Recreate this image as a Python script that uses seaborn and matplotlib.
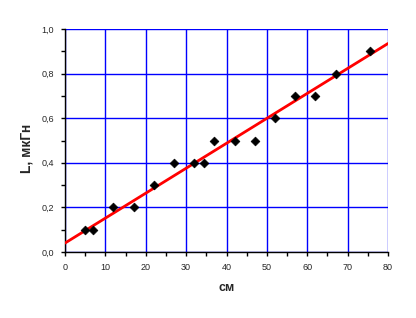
import matplotlib
matplotlib.use("Agg")
import matplotlib.pyplot as plt
import seaborn as sns
import pandas as pd
from matplotlib.ticker import MultipleLocator, FuncFormatter

# data
x_cm = [5, 7, 12, 17, 22, 27, 32, 34.5, 37, 42, 47, 52, 57, 62, 67, 75.5]
L_uH = [0.1, 0.1, 0.2, 0.2, 0.3, 0.4, 0.4, 0.4, 0.5, 0.5, 0.5, 0.6, 0.7, 0.7, 0.8, 0.9]
fit_x = [0, 80]
fit_y = [0.04, 0.935]

sns.set_style("white")
plt.rcParams['font.family'] = ['Liberation Sans', 'DejaVu Sans']

fig = plt.figure(figsize=(4.16, 3.18), dpi=100)
ax = fig.add_axes([65/416, 1-252/318, (388-65)/416, (252-29)/318])

pts = pd.DataFrame({"x": x_cm, "y": L_uH})
fit = pd.DataFrame({"x": fit_x, "y": fit_y})

sns.lineplot(data=fit, x="x", y="y", color="#ff0000", linewidth=2.0, ax=ax, zorder=3)
sns.scatterplot(data=pts, x="x", y="y", marker="D", s=20, color="black",
                edgecolor="black", linewidth=0.5, ax=ax, zorder=4)

ax.set_xlim(0, 80)
ax.set_ylim(0, 1.0)
ax.xaxis.set_major_locator(MultipleLocator(10))
ax.xaxis.set_minor_locator(MultipleLocator(5))
ax.yaxis.set_major_locator(MultipleLocator(0.2))
ax.yaxis.set_minor_locator(MultipleLocator(0.1))
ax.yaxis.set_major_formatter(FuncFormatter(lambda v, p: f"{v:.1f}".replace(".", ",")))
ax.xaxis.set_major_formatter(FuncFormatter(lambda v, p: f"{int(round(v))}"))

ax.grid(True, which="major", color="#0000ff", linewidth=1.0)
ax.set_axisbelow(True)
fig.canvas.draw()
xg = ax.xaxis.get_gridlines()
xg[0].set_visible(False)
xg[-1].set_visible(False)
ax.yaxis.get_gridlines()[0].set_visible(False)

for s in ["top", "right"]:
    ax.spines[s].set_visible(False)
for s in ["left", "bottom"]:
    ax.spines[s].set_color("black")
    ax.spines[s].set_linewidth(1.0)

ax.tick_params(which="major", direction="out", length=3, width=1, color="black",
               labelsize=6.5, pad=5, left=True, bottom=True)
ax.tick_params(which="minor", direction="out", length=3, width=1, color="black",
               left=True, bottom=True)

ax.set_xlabel("см", fontsize=9, fontweight="bold", labelpad=7)
ax.set_ylabel("L, мкГн", fontsize=10, fontweight="bold")
ax.yaxis.set_label_coords(-0.096, 0.466)

fig.savefig("out.png", dpi=100)
